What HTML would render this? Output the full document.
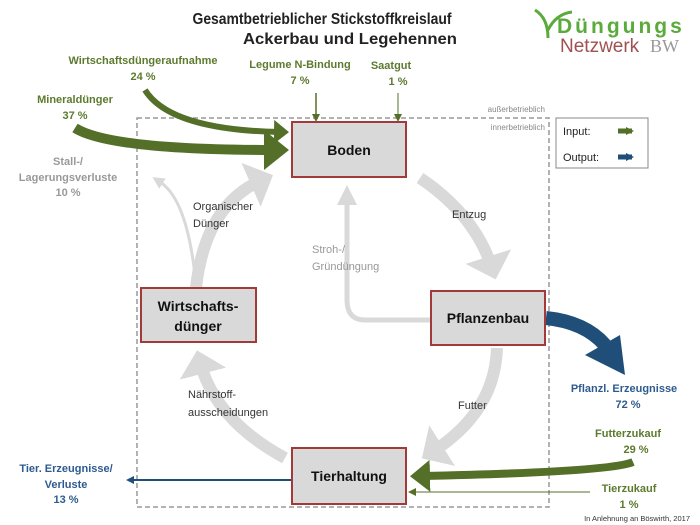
<!DOCTYPE html>
<html><head><meta charset="utf-8"><style>
html,body{margin:0;padding:0;background:#fff;}
svg{display:block;font-family:"Liberation Sans",sans-serif;}
</style></head><body>
<svg width="700" height="525" viewBox="0 0 700 525" xmlns="http://www.w3.org/2000/svg">
<defs>
<marker id="gh" markerWidth="4" markerHeight="4" refX="1" refY="2" orient="auto" markerUnits="strokeWidth"><path d="M0,0 L2,2 L0,4 z" fill="#d9d9d9"/></marker>
<marker id="gh2" markerWidth="4" markerHeight="4" refX="1" refY="2" orient="auto" markerUnits="strokeWidth"><path d="M0,0 L4,2 L0,4 z" fill="#d9d9d9"/></marker>
<marker id="grn" markerWidth="4" markerHeight="4" refX="1" refY="2" orient="auto" markerUnits="strokeWidth"><path d="M0,0 L2.5,2 L0,4 z" fill="#536f28"/></marker>
<marker id="grs" markerWidth="8" markerHeight="8" refX="6" refY="4" orient="auto" markerUnits="userSpaceOnUse"><path d="M0,0 L8,4 L0,8 z" fill="#536f28"/></marker>
<marker id="blu" markerWidth="8" markerHeight="8" refX="6" refY="4" orient="auto" markerUnits="userSpaceOnUse"><path d="M0,0 L8,4 L0,8 z" fill="#1f4e79"/></marker>
</defs>
<!-- title -->
<text x="322" y="24" text-anchor="middle" font-size="16" font-weight="bold" fill="#222" textLength="259" lengthAdjust="spacingAndGlyphs">Gesamtbetrieblicher Stickstoffkreislauf</text>
<text x="350" y="44" text-anchor="middle" font-size="16" font-weight="bold" fill="#222" textLength="214" lengthAdjust="spacingAndGlyphs">Ackerbau und Legehennen</text>
<!-- logo -->
<path d="M548,38 Q548,18 535,10 M548,30 Q556,14 572,12" stroke="#5aab3c" stroke-width="3" fill="none"/>
<text x="557" y="33" font-size="21" font-weight="bold" fill="#5aab3c" letter-spacing="3">Düngungs</text>
<text x="560" y="52" font-size="19" fill="#a05050">Netzwerk</text><text x="650" y="52" font-size="18" fill="#999" font-family="Liberation Serif">BW</text>
<!-- dashed -->
<rect x="137" y="118" width="412" height="389" fill="none" stroke="#999" stroke-width="1.5" stroke-dasharray="5,3"/>
<text x="545" y="112" text-anchor="end" font-size="8" fill="#888">außerbetrieblich</text>
<text x="545" y="130" text-anchor="end" font-size="8" fill="#888">innerbetrieblich</text>
<!-- legend -->
<rect x="556" y="118" width="92" height="50" fill="#fff" stroke="#888"/>
<text x="563" y="135" font-size="11" fill="#222">Input:</text>
<text x="563" y="161" font-size="11" fill="#222">Output:</text>
<path d="M618,131 h14" stroke="#536f28" stroke-width="5" marker-end="url(#grs)"/>
<path d="M618,157 h14" stroke="#1f4e79" stroke-width="5" marker-end="url(#blu)"/>
<!-- gray cycle -->
<g fill="none" stroke="#d9d9d9" stroke-width="12">
<path d="M420,178 Q475,215 492,268" marker-end="url(#gh)"/>
<path d="M497,348 Q495,412 432,452" marker-end="url(#gh)"/>
<path d="M285,458 Q215,420 200,362" marker-end="url(#gh)"/>
<path d="M196,288 Q205,205 262,180" marker-end="url(#gh)"/>
</g>
<path d="M430,320 L365,320 Q347,320 347,300 L347,200" fill="none" stroke="#d9d9d9" stroke-width="5" marker-end="url(#gh2)"/>
<path d="M196,285 Q188,200 160,182" fill="none" stroke="#d9d9d9" stroke-width="3" marker-end="url(#gh2)"/>
<!-- green inputs -->
<path d="M75,128 Q110,150 274,150" fill="none" stroke="#536f28" stroke-width="10" marker-end="url(#grn)"/>
<path d="M145,90 Q170,130 280,132" fill="none" stroke="#536f28" stroke-width="6" marker-end="url(#grn)"/>
<path d="M316,93 V120" stroke="#536f28" stroke-width="1.5" marker-end="url(#grs)"/>
<path d="M398,93 V120" stroke="#536f28" stroke-width="1" marker-end="url(#grs)"/>
<path d="M633,462 Q610,472 422,476" fill="none" stroke="#536f28" stroke-width="8" marker-end="url(#grn)"/>
<path d="M590,492 H410" stroke="#536f28" stroke-width="1" marker-end="url(#grs)"/>
<!-- blue outputs -->
<path d="M546,318 Q585,322 605,345" fill="none" stroke="#1f4e79" stroke-width="14"/>
<path d="M585,355 L620,335 L625,375 z" fill="#1f4e79"/>
<path d="M292,480 H128" stroke="#1f4e79" stroke-width="2" marker-end="url(#blu)"/>
<!-- boxes -->
<g fill="#d9d9d9" stroke="#a23a3a" stroke-width="2">
<rect x="292" y="122" width="114" height="55"/>
<rect x="431" y="291" width="114" height="54"/>
<rect x="141" y="288" width="115" height="54"/>
<rect x="292" y="448" width="114" height="56"/>
</g>
<g font-weight="bold" font-size="14" fill="#111" text-anchor="middle">
<text x="349" y="155">Boden</text>
<text x="488" y="323">Pflanzenbau</text>
<text x="198" y="311">Wirtschafts-</text>
<text x="198" y="331">dünger</text>
<text x="349" y="481">Tierhaltung</text>
</g>
<!-- labels -->
<g font-size="11" fill="#333">
<text x="193" y="210">Organischer</text><text x="193" y="227">Dünger</text>
<text x="452" y="218">Entzug</text>
<text x="458" y="409">Futter</text>
<text x="188" y="398">Nährstoff-</text><text x="188" y="416">ausscheidungen</text>
</g>
<text x="312" y="253" font-size="11" fill="#999">Stroh-/</text><text x="312" y="270" font-size="11" fill="#999">Gründüngung</text>
<g font-size="11" font-weight="bold" fill="#5d7a2e" text-anchor="middle">
<text x="143" y="64">Wirtschaftsdüngeraufnahme</text><text x="143" y="80">24 %</text>
<text x="75" y="103">Mineraldünger</text><text x="75" y="119">37 %</text>
<text x="300" y="68">Legume N-Bindung</text><text x="300" y="84">7 %</text>
<text x="391" y="69">Saatgut</text><text x="398" y="85">1 %</text>
<text x="628" y="437">Futterzukauf</text><text x="636" y="453">29 %</text>
<text x="629" y="492">Tierzukauf</text><text x="629" y="508">1 %</text>
</g>
<g font-size="11" font-weight="bold" fill="#999" text-anchor="middle">
<text x="68" y="165">Stall-/</text><text x="68" y="181">Lagerungsverluste</text><text x="68" y="196">10 %</text>
</g>
<g font-size="11" font-weight="bold" fill="#2e5b8f" text-anchor="middle">
<text x="624" y="392">Pflanzl. Erzeugnisse</text><text x="628" y="408">72 %</text>
<text x="66" y="472">Tier. Erzeugnisse/</text><text x="66" y="488">Verluste</text><text x="66" y="503">13 %</text>
</g>
<text x="690" y="521" text-anchor="end" font-size="7.5" fill="#333">In Anlehnung an Böswirth, 2017</text>
</svg>
</body></html>
